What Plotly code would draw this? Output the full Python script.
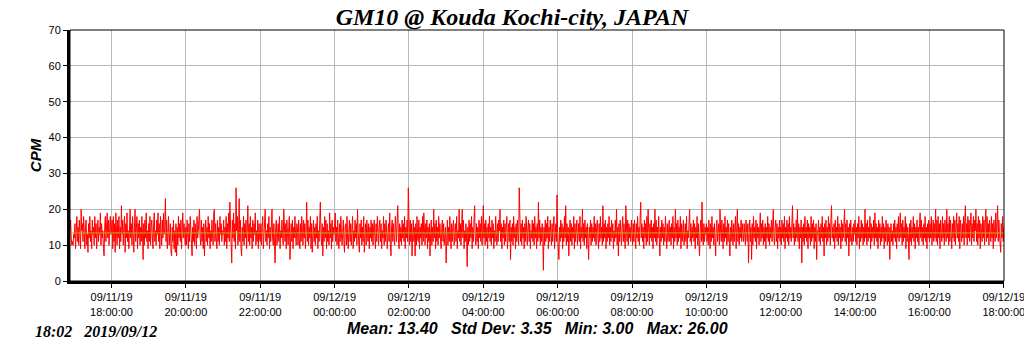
import pandas as pd
import plotly.graph_objects as go

# ---- data (CPM per minute) ----
start_time = "2019-09-11 16:53"
r1653 = [14,17,12,10,11,10,13]
r17 = [12,16,9,14,18,11,15,10,17,13,9,20,14,16,11,18,12,9,15,17,10,13,8,16,12,18,11,14,9,17,13,15,10,18,12,16,9,14,17,11,15,13,19,10,16,12,14,9,7,15,18,11,16,19,12,17,10,15,18,13]
r18 = [14,17,9,18,11,16,8,19,13,10,17,12,18,9,15,11,21,13,17,10,15,18,8,16,12,19,11,14,9,17,20,12,16,10,18,13,8,15,20,11,14,18,9,16,12,17,10,15,11,18,13,6,16,10,17,12,19,11,14,9]
r19 = [16,11,18,10,15,17,12,9,16,19,11,14,10,17,13,19,11,16,9,18,14,10,17,12,19,13,15,23,11,17,9,14,18,10,13,16,8,7,15,11,17,9,14,8,16,7,15,10,18,12,16,11,17,9,14,19,12,16,13,10]
r20 = [15,10,17,12,9,16,11,18,13,8,7,15,11,17,10,16,13,9,18,12,14,19,20,12,10,17,11,15,9,16,7,13,17,11,15,10,18,12,16,9,14,11,17,13,10,19,20,11,16,12,9,17,11,15,10,18,13,16,11,14]
r21 = [13,17,10,15,11,18,9,16,12,19,11,22,14,10,5,17,12,19,11,16,9,26,14,18,10,13,23,11,17,9,7,15,11,18,10,16,12,17,9,14,21,11,16,10,18,12,15,9,17,11,16,13,19,10,14,11,17,9,16,12]
r22 = [11,16,10,15,18,9,13,17,20,11,14,10,16,12,18,9,15,11,17,20,12,10,16,11,5,15,17,10,13,16,11,18,9,14,12,17,13,10,20,14,11,16,9,17,12,10,15,18,6,13,16,11,17,9,15,12,18,13,10,16]
r23 = [15,10,17,12,9,16,11,18,14,10,17,12,16,9,14,22,11,17,10,15,12,18,9,16,8,13,17,11,15,10,16,12,18,9,14,11,17,22,13,10,16,7,15,11,18,12,17,9,16,11,14,10,19,12,16,9,17,11,15,13]
r00 = [16,19,11,15,10,17,12,9,16,11,18,14,10,13,17,11,8,15,16,10,18,12,9,14,17,11,16,10,13,18,9,14,11,17,12,16,10,20,14,11,8,16,12,17,10,15,11,18,8,13,16,10,17,14,11,16,9,15,12,17]
r01 = [11,16,10,15,17,12,9,16,11,18,13,10,15,17,11,16,9,14,12,18,10,16,11,17,14,9,13,16,11,19,10,7,15,17,11,16,12,10,18,14,11,17,21,12,9,16,11,15,10,17,12,16,11,18,9,15,12,17,11,26]
r02 = [14,10,17,11,16,7,13,17,11,15,7,16,10,18,12,11,17,9,15,12,16,10,18,11,19,14,10,16,12,17,9,15,11,16,7,13,17,10,15,11,20,12,16,9,17,11,15,10,18,12,16,11,9,15,17,11,16,10,13,15]
r03 = [5,13,17,10,15,11,18,12,9,16,11,15,17,10,13,16,11,18,9,14,12,20,11,16,10,15,20,12,17,9,14,11,16,12,4,15,10,17,11,16,12,18,9,15,11,17,21,12,10,16,11,15,9,17,12,16,11,18,10,14]
r04 = [21,12,16,10,17,11,15,9,16,12,18,11,15,10,17,12,16,9,14,11,18,13,10,16,11,17,14,20,11,16,9,15,12,17,10,16,11,15,18,9,13,16,11,17,6,15,11,16,10,18,12,15,9,16,11,17,13,10,26,14]
r05 = [11,16,10,17,12,15,9,16,11,18,13,10,15,17,11,16,9,14,12,17,11,16,10,18,12,15,9,16,11,22,12,17,10,15,11,16,12,3,15,10,17,11,16,12,18,9,15,11,17,12,10,16,11,15,18,9,13,16,11,24]
r06 = [13,10,6,15,11,17,12,16,9,15,11,18,12,21,10,16,11,15,7,13,17,11,16,10,15,12,18,9,16,11,15,17,10,13,16,11,18,9,15,12,20,11,16,10,17,12,15,9,16,11,6,15,12,17,10,16,11,15,12,18]
r07 = [11,16,10,15,17,12,9,16,11,18,12,15,10,21,11,16,12,17,9,15,11,16,12,18,10,15,11,17,12,16,9,14,11,17,12,20,10,15,7,16,11,17,12,10,15,18,11,16,12,9,21,14,11,17,10,16,12,15,11,17]
r08 = [13,10,16,11,17,14,9,16,12,18,11,15,10,17,22,12,16,11,15,9,17,12,16,10,18,11,20,14,10,16,12,17,11,15,9,16,12,20,11,17,10,15,12,18,9,7,15,11,17,12,16,10,15,11,18,12,9,16,11,14]
r09 = [17,11,15,10,16,12,18,9,15,11,20,12,16,10,17,11,15,12,18,9,16,11,15,17,10,13,16,11,18,9,14,12,17,20,11,16,10,15,12,17,11,16,9,15,12,18,10,16,11,7,15,17,11,22,12,10,16,11,15,13]
r10 = [16,11,15,10,17,12,9,16,11,18,12,15,10,16,11,7,15,17,11,13,16,10,20,14,11,17,12,9,16,11,18,12,15,10,17,11,16,12,7,15,11,17,12,10,16,11,15,18,9,13,20,11,16,10,15,12,17,11,16,13]
r11 = [11,16,12,10,17,14,11,16,5,13,17,11,15,6,16,10,18,12,15,11,17,9,16,12,15,10,18,19,11,16,12,17,10,15,11,16,9,15,12,18,11,16,10,15,12,17,11,16,20,12,10,15,17,11,16,9,15,12,17,11]
r12 = [15,10,17,12,16,11,18,9,15,12,17,11,16,10,18,12,15,11,17,21,12,16,10,15,11,17,12,20,11,16,9,15,12,17,5,15,11,16,10,18,12,15,11,17,9,16,12,15,10,18,11,16,12,17,9,15,11,16,6,14]
r13 = [13,17,11,15,10,16,12,18,11,15,7,16,12,17,10,15,11,18,12,16,10,17,21,12,15,11,16,9,17,12,15,11,18,10,16,12,15,9,17,11,16,12,15,20,11,16,10,17,12,15,7,16,11,17,12,10,15,11,16,13]
r14 = [17,11,15,10,16,12,18,9,15,11,17,12,16,10,15,11,20,12,16,10,17,11,15,12,18,9,16,11,15,12,17,10,19,12,16,11,15,9,17,12,16,10,15,11,18,12,16,9,15,11,17,12,10,16,11,15,6,13,16,11]
r15 = [14,10,16,12,17,11,15,9,16,12,18,11,15,19,12,16,10,17,11,15,12,18,9,16,11,15,12,6,16,11,17,10,15,12,18,11,16,9,15,12,17,11,15,10,16,19,12,17,11,15,10,16,12,18,11,15,9,16,12,17]
r16 = [11,16,12,18,10,15,17,11,16,12,20,11,17,10,18,12,16,9,17,14,11,18,12,16,10,17,14,11,20,12,16,10,18,11,17,13,9,16,12,18,11,17,10,15,19,12,16,11,18,9,17,14,11,16,12,18,10,17,21,12]
r17b = [16,10,18,12,17,11,15,19,10,16,12,18,11,17,14,20,11,16,10,18,12,17,9,16,14,11,18,12,17,10,16,20,11,18,12,16,10,17,14,11,18,12,16,9,17,14,11,19,12,16,21,11,17,13,10,8,16,12,18,11]
r1800 = [15]

cpm = (r1653 + r17 + r18 + r19 + r20 + r21 + r22 + r23 + r00 + r01 + r02 + r03
       + r04 + r05 + r06 + r07 + r08 + r09 + r10 + r11 + r12 + r13 + r14 + r15
       + r16 + r17b + r1800)

mean_cpm = 13.40
stats_text = "Mean: 13.40   Std Dev: 3.35   Min: 3.00   Max: 26.00"
stamp_text = "18:02   2019/09/12"
title_text = "GM10 @ Kouda Kochi-city, JAPAN"

tick_times = ["2019-09-11 18:00", "2019-09-11 20:00", "2019-09-11 22:00",
              "2019-09-12 00:00", "2019-09-12 02:00", "2019-09-12 04:00",
              "2019-09-12 06:00", "2019-09-12 08:00", "2019-09-12 10:00",
              "2019-09-12 12:00", "2019-09-12 14:00", "2019-09-12 16:00",
              "2019-09-12 18:00"]
tick_labels = ["09/11/19<br>18:00:00", "09/11/19<br>20:00:00", "09/11/19<br>22:00:00",
               "09/12/19<br>00:00:00", "09/12/19<br>02:00:00", "09/12/19<br>04:00:00",
               "09/12/19<br>06:00:00", "09/12/19<br>08:00:00", "09/12/19<br>10:00:00",
               "09/12/19<br>12:00:00", "09/12/19<br>14:00:00", "09/12/19<br>16:00:00",
               "09/12/19<br>18:00:00"]

x_range = ["2019-09-11 16:53", "2019-09-12 18:00:20"]

times = pd.date_range(start_time, periods=len(cpm), freq="1min")

fig = go.Figure()
fig.add_trace(go.Scatter(x=times, y=cpm, mode="lines",
                         line=dict(color="#ff0000", width=1), hoverinfo="skip"))
fig.add_trace(go.Scatter(x=x_range, y=[mean_cpm, mean_cpm], mode="lines",
                         line=dict(color="#c8a800", width=1), hoverinfo="skip"))

sans = "Liberation Sans, Arial, sans-serif"
serif = "Liberation Serif, Times New Roman, serif"

fig.update_layout(
    width=1024, height=351,
    margin=dict(l=70, r=20, t=30, b=70, autoexpand=False),
    paper_bgcolor="white", plot_bgcolor="white",
    showlegend=False,
    title=dict(text="<b><i>" + title_text + "</i></b>", x=0.5, xanchor="center",
               y=0.952, yanchor="middle",
               font=dict(family=serif, size=24, color="black")),
    xaxis=dict(range=x_range, tickmode="array", tickvals=tick_times, ticktext=tick_labels,
               tickfont=dict(family=sans, size=11, color="black"),
               ticklabeloverflow="allow", automargin=False,
               ticks="outside", ticklen=4, tickcolor="black",
               showgrid=True, gridcolor="#b8b8b8", gridwidth=1,
               showline=True, linecolor="black", linewidth=3, zeroline=False),
    yaxis=dict(range=[0, 70], dtick=10, tick0=0, automargin=False,
               tickfont=dict(family=sans, size=11, color="black"),
               ticks="outside", ticklen=4, tickcolor="black",
               showgrid=True, gridcolor="#b8b8b8", gridwidth=1,
               showline=True, linecolor="black", linewidth=3, zeroline=False,
               title=dict(text="<b><i>CPM</i></b>", standoff=4,
                          font=dict(family=sans, size=15, color="black"))),
    shapes=[dict(type="rect", xref="paper", yref="paper", x0=0, y0=0, x1=1, y1=1,
                 line=dict(color="black", width=1), fillcolor="rgba(0,0,0,0)")],
    annotations=[
        dict(text="<b><i>" + stats_text + "</i></b>", xref="paper", yref="paper",
             x=0.5, y=-0.19, xanchor="center", yanchor="middle", showarrow=False,
             font=dict(family=sans, size=16, color="black")),
        dict(text="<b><i>" + stamp_text + "</i></b>", xref="paper", yref="paper",
             x=-0.04, y=-0.2, xanchor="left", yanchor="middle", showarrow=False,
             font=dict(family=serif, size=16, color="black")),
    ],
)

fig.write_html("out.html")
